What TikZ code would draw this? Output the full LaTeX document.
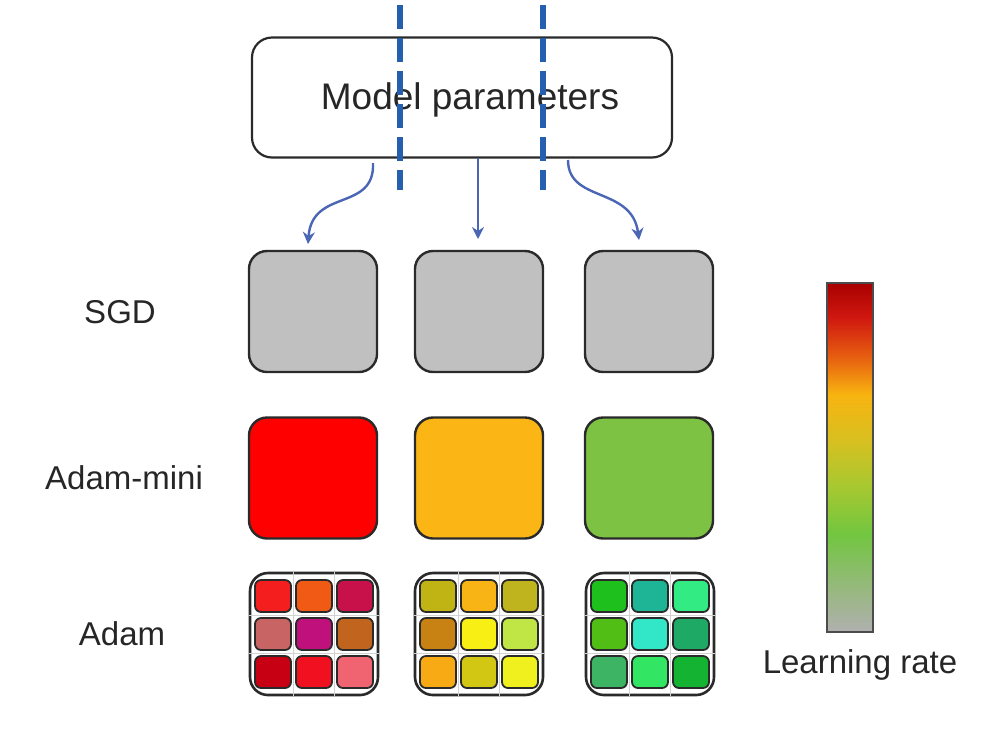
\documentclass[tikz,border=0pt]{standalone}
\usepackage{fontspec}
\setmainfont{Liberation Sans}
\usetikzlibrary{arrows.meta,calc}
\definecolor{dashblue}{HTML}{2560B0}
\definecolor{arrblue}{HTML}{4A66B4}
\definecolor{boxgray}{HTML}{C0C0C0}
\definecolor{mred}{HTML}{FF0000}
\definecolor{morange}{HTML}{FBB514}
\definecolor{mgreen}{HTML}{7DC242}
\definecolor{edge}{HTML}{2A2A2A}
% Adam cells
\definecolor{g111}{HTML}{F41E1E}\definecolor{g112}{HTML}{F05A14}\definecolor{g113}{HTML}{C8104A}
\definecolor{g121}{HTML}{C86464}\definecolor{g122}{HTML}{C0107C}\definecolor{g123}{HTML}{C0641E}
\definecolor{g131}{HTML}{C80014}\definecolor{g132}{HTML}{F01020}\definecolor{g133}{HTML}{F06472}
\definecolor{g211}{HTML}{C0B414}\definecolor{g212}{HTML}{F8B414}\definecolor{g213}{HTML}{C0B41E}
\definecolor{g221}{HTML}{C88214}\definecolor{g222}{HTML}{F8F014}\definecolor{g223}{HTML}{C0E646}
\definecolor{g231}{HTML}{F8AA14}\definecolor{g232}{HTML}{D2C814}\definecolor{g233}{HTML}{F0F01E}
\definecolor{g311}{HTML}{1EC01E}\definecolor{g312}{HTML}{1EB496}\definecolor{g313}{HTML}{32EB82}
\definecolor{g321}{HTML}{50BE14}\definecolor{g322}{HTML}{32E6C8}\definecolor{g323}{HTML}{1EAA64}
\definecolor{g331}{HTML}{3CB464}\definecolor{g332}{HTML}{32E664}\definecolor{g333}{HTML}{14B432}
% colour bar
\definecolor{cb0}{HTML}{B0B0B0}
\definecolor{cb1}{HTML}{98B880}
\definecolor{cb2}{HTML}{72C640}
\definecolor{cb3}{HTML}{A8C830}
\definecolor{cb4}{HTML}{D8C020}
\definecolor{cb5}{HTML}{F8B410}
\definecolor{cb6}{HTML}{E86410}
\definecolor{cb7}{HTML}{D01810}
\definecolor{cb8}{HTML}{A80000}
\pgfdeclareverticalshading{lrbar}{100bp}{color(0bp)=(cb0); color(25bp)=(cb0); color(31bp)=(cb1); color(39bp)=(cb2); color(46bp)=(cb3); color(52.5bp)=(cb4); color(59bp)=(cb5); color(64bp)=(cb6); color(70bp)=(cb7); color(75bp)=(cb8); color(100bp)=(cb8)}
\begin{document}
\begin{tikzpicture}[x=0.5pt,y=-0.5pt,
  bigbox/.style={draw=edge, line width=1.1pt, rounded corners=10pt, fill=white,
    minimum width=210pt, minimum height=60pt, inner sep=0pt},
  optbox/.style={draw=edge, line width=1.2pt, rounded corners=9pt,
    minimum width=64pt, minimum height=60.5pt, inner sep=0pt},
  gridbox/.style={draw=edge, line width=1.3pt, rounded corners=9pt, fill=white,
    minimum width=64pt, minimum height=61pt, inner sep=0pt},
  cell/.style={draw=edge, line width=0.9pt, rounded corners=3pt,
    minimum width=18pt, minimum height=16pt, inner sep=0pt},
  rowlabel/.style={font=\fontsize{16.5}{20}\selectfont, text=black!85, inner sep=0pt},
  sep/.style={draw=dashblue, line width=2.6pt, dash pattern=on 12pt off 4.5pt},
  conn/.style={draw=arrblue, line width=1.2pt, -{Stealth[length=6pt,width=6pt]}},
]
\useasboundingbox (0,0) rectangle (994,746);

% model parameters box
\node[bigbox] (mp) at (462,97.5) {};
\node[font=\fontsize{18.5}{22}\selectfont, text=black!85, inner sep=0pt] (mpt) at (470,100) {Model parameters};

% row labels
\node[rowlabel] (lsgd) at (120,312) {SGD};
\node[rowlabel] (lmini) at (124,478) {Adam-mini};
\node[rowlabel] (ladam) at (122,634) {Adam};

% SGD row
\node[optbox, fill=boxgray] (s1) at (313,311.5) {};
\node[optbox, fill=boxgray] (s2) at (479,311.5) {};
\node[optbox, fill=boxgray] (s3) at (649,311.5) {};

% Adam-mini row
\node[optbox, fill=mred] (m1) at (313,478) {};
\node[optbox, fill=morange] (m2) at (479,478) {};
\node[optbox, fill=mgreen] (m3) at (649,478) {};

% Adam row
\foreach \cx/\gi in {314/1,479/2,650/3}{
  \node[gridbox] (a\gi) at (\cx,634) {};
  \draw[gray!35, line width=0.5pt]
    ($(a\gi.north)+(-20.5,0)$) -- ($(a\gi.south)+(-20.5,0)$)
    ($(a\gi.north)+(20.5,0)$) -- ($(a\gi.south)+(20.5,0)$)
    ($(a\gi.west)+(0,-19)$) -- ($(a\gi.east)+(0,-19)$)
    ($(a\gi.west)+(0,19)$) -- ($(a\gi.east)+(0,19)$);
  \foreach \r in {1,2,3}{
    \foreach \c in {1,2,3}{
      \node[cell, fill=g\gi\r\c] (a\gi c\r\c) at ($(a\gi)+(41*\c-82,38*\r-76)$) {};
    }
  }
}

% connectors
\coordinate (c1s) at (373,163);
\coordinate (c1e) at (308,244);
\coordinate (c2s) at (478,158);
\coordinate (c2e) at (478,239);
\coordinate (c3s) at (568,160);
\coordinate (c3e) at (639,240);
\draw[conn] (c1s) .. controls (375,212) and (312,188) .. (c1e);
\draw[conn] (c2s) -- (c2e);
\draw[conn] (c3s) .. controls (568,203) and (632,186) .. (c3e);

% dashed separators
\coordinate (d1t) at (400,5);
\coordinate (d1b) at (400,190);
\coordinate (d2t) at (543,5);
\coordinate (d2b) at (543,190);
\draw[sep] (d1t) -- (d1b);
\draw[sep] (d2t) -- (d2b);

% colour bar
\node[draw=black!70, line width=0.6pt, shading=lrbar, minimum width=23pt, minimum height=174.5pt, inner sep=0pt] (bar) at (850,457.5) {};
\node[rowlabel] (lr) at (860,665) {Learning rate};
\end{tikzpicture}
\end{document}
